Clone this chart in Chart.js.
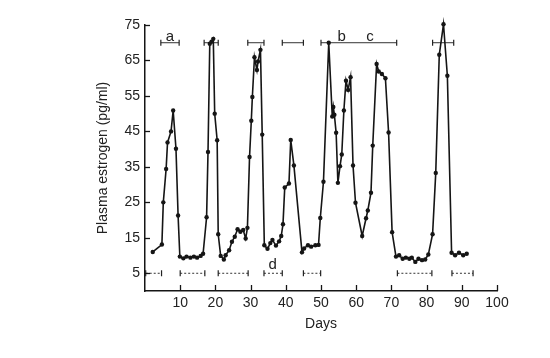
<!DOCTYPE html>
<html>
<head>
<meta charset="utf-8">
<script src="https://cdn.jsdelivr.net/npm/chart.js@4"></script>
<style>
  html, body { margin: 0; padding: 0; background: #fff; }
</style>
</head>
<body>
<canvas id="chart" width="550" height="358"></canvas>
<script>
// sampling days and plasma estrogen (pg/ml)
const days = [
  2.2, 4.8, 5.2, 6.0, 6.4, 7.4, 8.0, 8.8, 9.4, 9.9,
  10.9, 11.8, 12.9, 13.9, 14.8, 15.8, 16.5, 17.5, 17.9, 18.4,
  18.9, 19.4, 19.8, 20.5, 20.8, 21.5, 22.4, 22.9, 23.9, 24.7,
  25.5, 26.3, 27.1, 27.9, 28.6, 29.1, 29.7, 30.2, 30.5, 31.1,
  31.8, 32.1, 32.8, 33.3, 33.9, 34.8, 35.6, 36.2, 37.2, 38.1,
  38.7, 39.2, 39.7, 40.9, 41.4, 42.3, 44.6, 45.2, 46.3, 47.2,
  48.4, 49.3, 49.8, 50.7, 52.2, 53.2, 53.5, 53.8, 54.3, 54.8,
  55.4, 55.9, 56.5, 57.1, 57.7, 58.4, 59.1, 59.8, 61.7, 62.8,
  63.3, 64.2, 64.7, 65.8, 66.4, 67.3, 68.3, 69.2, 70.2, 71.3,
  72.2, 73.2, 74.1, 75.1, 75.8, 76.8, 77.7, 78.7, 79.6, 80.5,
  81.7, 82.6, 83.6, 84.8, 85.9, 87.1, 88.1, 89.2, 90.4, 91.4
];
const estrogen = [
  11.0, 13.1, 25.0, 34.4, 41.9, 45.0, 50.9, 40.1, 21.3, 9.7,
  9.2, 9.7, 9.4, 9.7, 9.4, 9.9, 10.5, 20.8, 39.2, 69.7,
  70.3, 71.1, 50.0, 42.5, 16.0, 9.9, 8.9, 10.1, 11.5, 13.9,
  15.3, 17.4, 16.7, 17.2, 14.8, 17.8, 37.8, 48.0, 54.7, 65.9,
  62.3, 64.7, 68.0, 44.1, 12.9, 11.9, 13.5, 14.4, 12.8, 14.0,
  15.5, 18.8, 29.2, 30.3, 42.6, 35.4, 10.9, 12.0, 12.9, 12.5,
  12.9, 13.0, 20.6, 30.8, 70.0, 49.2, 51.9, 49.7, 44.6, 30.5,
  35.2, 38.5, 50.9, 59.3, 56.7, 60.3, 35.4, 24.9, 15.5, 20.5,
  22.7, 27.7, 41.0, 64.0, 61.9, 61.2, 60.0, 44.7, 16.6, 9.7,
  10.1, 9.1, 9.4, 9.1, 9.4, 8.2, 9.1, 8.7, 8.9, 10.3,
  16.0, 33.3, 66.6, 75.2, 60.7, 10.8, 10.1, 10.8, 10.1, 10.5
];

const xTicks = [10, 20, 30, 40, 50, 60, 70, 80, 90, 100];
const yTicks = [5, 15, 25, 35, 45, 55, 65, 75];

// interval bars: [start day, end day]
const topBarLevel = 70;
const topBars = [[4.5, 9.7], [16.8, 20.8], [29.2, 33.8], [39.0, 45.0], [50.0, 71.5], [81.7, 87.7]];
const bottomBarLevel = 5;
const bottomBars = [[0.2, 4.7], [10.0, 17.0], [20.8, 29.3], [33.8, 39.0], [45.0, 49.9], [71.7, 81.5], [87.2, 93.2]];

const letters = ['a', 'b', 'c', 'd'];
const letterDays = [7.1, 55.9, 63.9, 36.3];
const letterLevels = [70.6, 70.6, 70.6, 6.1];

const FONT = "'Liberation Sans', Arial, sans-serif";
const INK = '#151515';

function barDataset(range, level, dash) {
    return {
        data: [{x: range[0], y: level}, {x: range[1], y: level}],
        borderColor: '#333',
        borderWidth: 1,
        borderDash: dash,
        pointStyle: 'line',
        rotation: 90,
        pointRadius: 3,
        pointBorderWidth: 1.2,
        pointBorderColor: '#222',
        clip: false
    };
}

// inward tick marks and the a/b/c/d letters
const extras = {
    id: 'extras',
    afterDraw(chart) {
        const {ctx, scales: {x, y}} = chart;
        ctx.save();
        ctx.strokeStyle = INK;
        ctx.lineWidth = 1.3;
        xTicks.forEach(v => {
            const px = Math.round(x.getPixelForValue(v)) + 0.5;
            ctx.beginPath();
            ctx.moveTo(px, y.bottom);
            ctx.lineTo(px, y.bottom - 6);
            ctx.stroke();
        });
        yTicks.forEach(v => {
            const py = Math.round(y.getPixelForValue(v)) + 0.5;
            ctx.beginPath();
            ctx.moveTo(x.left, py);
            ctx.lineTo(x.left + 5, py);
            ctx.stroke();
        });
        ctx.fillStyle = '#222';
        ctx.font = '15px ' + FONT;
        ctx.textAlign = 'center';
        ctx.textBaseline = 'alphabetic';
        letters.forEach((t, i) => {
            ctx.fillText(t, x.getPixelForValue(letterDays[i]), y.getPixelForValue(letterLevels[i]));
        });
        ctx.restore();
    }
};

const datasets = [{
    data: days.map((d, i) => ({x: d, y: estrogen[i]})),
    borderColor: INK,
    borderWidth: 1.6,
    backgroundColor: INK,
    pointRadius: 2.2,
    pointBorderWidth: 0,
    pointBackgroundColor: INK,
    tension: 0,
    clip: false
}];
topBars.forEach(r => datasets.push(barDataset(r, topBarLevel, [])));
bottomBars.forEach(r => datasets.push(barDataset(r, bottomBarLevel, [2, 2])));

new Chart(document.getElementById('chart'), {
    type: 'line',
    data: {datasets: datasets},
    options: {
        responsive: false,
        animation: false,
        events: [],
        layout: {padding: {left: 85, right: 53, top: 25, bottom: 0}},
        plugins: {legend: {display: false}, tooltip: {enabled: false}},
        scales: {
            x: {
                type: 'linear',
                min: 0,
                max: 100,
                afterBuildTicks: s => { s.ticks = xTicks.map(v => ({value: v})); },
                afterFit: s => { s.height = 67; },
                grid: {display: false, drawTicks: false},
                border: {display: true, color: INK, width: 1.5},
                ticks: {color: '#222', font: {family: FONT, size: 14}, padding: 4, maxRotation: 0},
                title: {display: true, text: 'Days', color: '#222', font: {family: FONT, size: 14}, padding: {top: 0, bottom: 25}}
            },
            y: {
                type: 'linear',
                min: 0,
                max: 75,
                afterBuildTicks: s => { s.ticks = yTicks.map(v => ({value: v})); },
                afterFit: s => { s.width = 60; },
                grid: {display: false, drawTicks: false},
                border: {display: true, color: INK, width: 1.5},
                ticks: {color: '#222', font: {family: FONT, size: 14}, padding: 5},
                title: {display: true, text: 'Plasma estrogen (pg/ml)', color: '#222', font: {family: FONT, size: 14}, padding: {top: 10, bottom: 0}}
            }
        }
    },
    plugins: [extras]
});
</script>
</body>
</html>
